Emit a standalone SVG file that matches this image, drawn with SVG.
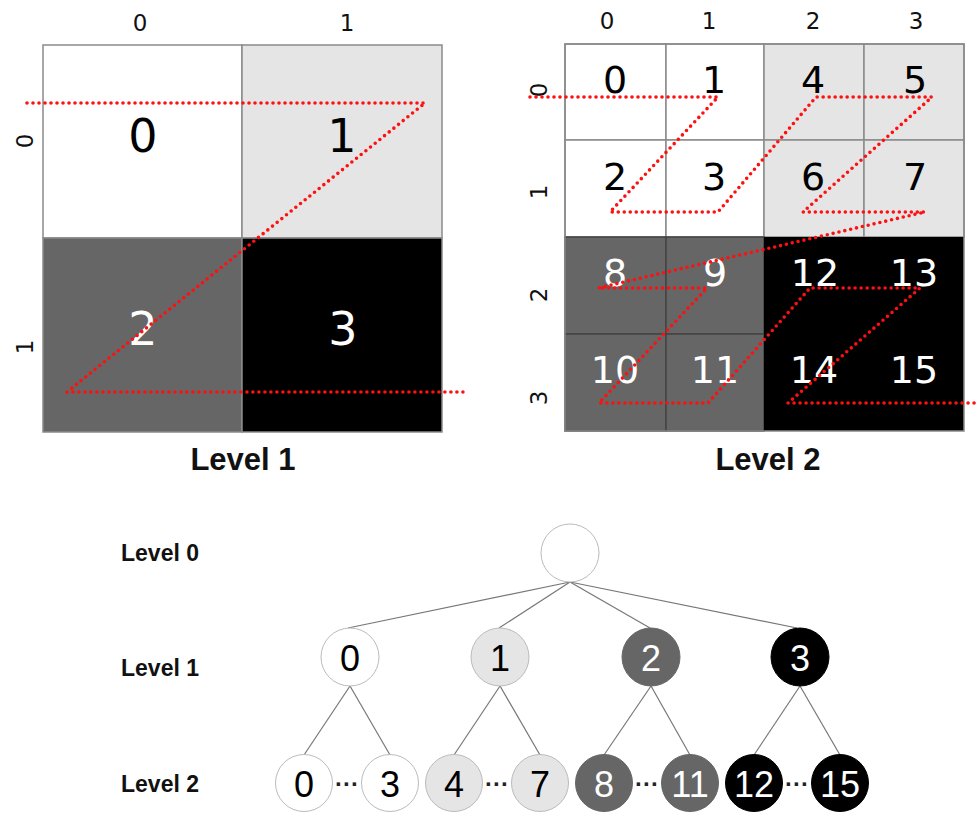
<svg xmlns="http://www.w3.org/2000/svg" width="980" height="813" viewBox="0 0 980 813">
<style>
.bg{fill:#ffffff}
.cell{stroke:#8a8a8a;stroke-width:1.5}
.w{fill:#ffffff}.l{fill:#e5e5e5}.d{fill:#666666}.k{fill:#000000}
.axis{font-family:"DejaVu Sans",sans-serif;font-size:23px;fill:#111;text-anchor:middle}
.n1{font-family:"DejaVu Sans",sans-serif;font-size:46px;text-anchor:middle}
.n2{font-family:"DejaVu Sans",sans-serif;font-size:38px;text-anchor:middle}
.tb{fill:#000}.tw{fill:#fff}
.title{font-family:"Liberation Sans",Arial,sans-serif;font-weight:bold;font-size:31px;fill:#111;text-anchor:middle}
.lvl{font-family:"Liberation Sans",Arial,sans-serif;font-weight:bold;font-size:23px;fill:#111}
.zig{fill:none;stroke:#ff1010;stroke-width:3.6;stroke-dasharray:0 6;stroke-linecap:round;stroke-linejoin:round}
.edge{stroke:#777;stroke-width:1.2;fill:none}
.node{stroke:#bbbbbb;stroke-width:1}
.tn{font-family:"Liberation Sans",Arial,sans-serif;font-size:36px;text-anchor:middle}
.dots{font-family:"Liberation Sans",Arial,sans-serif;font-weight:bold;font-size:24px;fill:#222;text-anchor:middle}
</style>
<rect class="bg" x="0" y="0" width="980" height="813"/>

<g id="grid-level1">
  <rect class="cell w" x="43" y="45" width="199" height="193"/>
  <rect class="cell l" x="242" y="45" width="200" height="193"/>
  <rect class="cell d" x="43" y="238" width="199" height="194"/>
  <rect class="cell k" x="242" y="238" width="200" height="194"/>
  <text class="axis" x="140" y="31">0</text>
  <text class="axis" x="347" y="31">1</text>
  <text class="axis" transform="translate(33,141) rotate(-90)">0</text>
  <text class="axis" transform="translate(33,347) rotate(-90)">1</text>
  <text class="n1 tb" x="143" y="152">0</text>
  <text class="n1 tb" x="342" y="152">1</text>
  <text class="n1 tw" x="143" y="345">2</text>
  <text class="n1 tw" x="343" y="345">3</text>
  <text class="title" x="243" y="470">Level 1</text>
</g>

<g id="grid-level2">
  <rect class="cell w" x="565" y="44" width="101" height="96"/>
  <rect class="cell w" x="666" y="44" width="98" height="96"/>
  <rect class="cell l" x="764" y="44" width="100" height="96"/>
  <rect class="cell l" x="864" y="44" width="100" height="96"/>
  <rect class="cell w" x="565" y="140" width="101" height="97"/>
  <rect class="cell w" x="666" y="140" width="98" height="97"/>
  <rect class="cell l" x="764" y="140" width="100" height="97"/>
  <rect class="cell l" x="864" y="140" width="100" height="97"/>
  <rect class="cell d" x="565" y="237" width="101" height="97" style="stroke:#444"/>
  <rect class="cell d" x="666" y="237" width="98" height="97" style="stroke:#444"/>
  <rect class="cell d" x="565" y="334" width="101" height="97" style="stroke:#444"/>
  <rect class="cell d" x="666" y="334" width="98" height="97" style="stroke:#444"/>
  <rect class="k" x="764" y="237" width="200" height="194"/>
  <rect x="565" y="44" width="399" height="387" fill="none" stroke="#8a8a8a" stroke-width="1.5"/>
  <text class="axis" x="607" y="29">0</text>
  <text class="axis" x="709" y="29">1</text>
  <text class="axis" x="813" y="29">2</text>
  <text class="axis" x="916" y="29">3</text>
  <text class="axis" transform="translate(547,90) rotate(-90)">0</text>
  <text class="axis" transform="translate(547,192) rotate(-90)">1</text>
  <text class="axis" transform="translate(547,295) rotate(-90)">2</text>
  <text class="axis" transform="translate(547,398) rotate(-90)">3</text>
  <text class="n2 tb" x="615" y="93">0</text>
  <text class="n2 tb" x="714" y="93">1</text>
  <text class="n2 tb" x="813" y="93">4</text>
  <text class="n2 tb" x="915" y="93">5</text>
  <text class="n2 tb" x="615" y="190">2</text>
  <text class="n2 tb" x="714" y="190">3</text>
  <text class="n2 tb" x="813" y="190">6</text>
  <text class="n2 tb" x="915" y="190">7</text>
  <text class="n2 tw" x="615" y="286">8</text>
  <text class="n2 tw" x="715" y="286">9</text>
  <text class="n2 tw" x="815" y="286">12</text>
  <text class="n2 tw" x="914" y="286">13</text>
  <text class="n2 tw" x="615" y="383">10</text>
  <text class="n2 tw" x="715" y="383">11</text>
  <text class="n2 tw" x="814" y="383">14</text>
  <text class="n2 tw" x="914" y="383">15</text>
  <text class="title" x="768" y="470">Level 2</text>
</g>

<g id="zorder-curves">
  <polyline class="zig" points="27,103 425,103 67,392 465,392"/>
  <polyline class="zig" points="530,97 718,97 610,212 718,212 816,97 932,97 803,212 925,212 598,288 707,288 599,403 708,403 810,288 920,288 788,403 980,403"/>
</g>

<g id="level-labels">
  <text class="lvl" x="121" y="561">Level 0</text>
  <text class="lvl" x="121" y="676">Level 1</text>
  <text class="lvl" x="121" y="792">Level 2</text>
</g>

<g id="connectors">
  <line class="edge" x1="570" y1="582" x2="348" y2="628"/>
  <line class="edge" x1="570" y1="582" x2="499" y2="628"/>
  <line class="edge" x1="570" y1="582" x2="650" y2="628"/>
  <line class="edge" x1="570" y1="582" x2="797" y2="628"/>
  <line class="edge" x1="350" y1="686" x2="304" y2="755"/>
  <line class="edge" x1="350" y1="686" x2="390" y2="755"/>
  <line class="edge" x1="500" y1="686" x2="454" y2="755"/>
  <line class="edge" x1="500" y1="686" x2="540" y2="755"/>
  <line class="edge" x1="651" y1="686" x2="604" y2="755"/>
  <line class="edge" x1="651" y1="686" x2="690" y2="755"/>
  <line class="edge" x1="800" y1="686" x2="754" y2="755"/>
  <line class="edge" x1="800" y1="686" x2="840" y2="755"/>
</g>

<g id="node-root"><circle class="node w" cx="570" cy="553" r="29"/></g>

<g id="node-l1-0"><circle class="node w" cx="350" cy="657" r="29"/><text class="tn tb" x="350" y="671">0</text></g>
<g id="node-l1-1"><circle class="node l" cx="500" cy="657" r="29"/><text class="tn tb" x="500" y="671">1</text></g>
<g id="node-l1-2"><circle class="node d" cx="651" cy="657" r="29" style="stroke:#666"/><text class="tn tw" x="651" y="671">2</text></g>
<g id="node-l1-3"><circle class="node k" cx="800" cy="657" r="29" style="stroke:#000"/><text class="tn tw" x="800" y="671">3</text></g>

<g id="node-l2-0"><circle class="node w" cx="304" cy="783" r="28.5"/><text class="tn tb" x="304" y="797">0</text></g>
<g id="node-l2-3"><circle class="node w" cx="390" cy="783" r="28.5"/><text class="tn tb" x="390" y="797">3</text></g>
<g id="node-l2-4"><circle class="node l" cx="454" cy="783" r="28.5"/><text class="tn tb" x="454" y="797">4</text></g>
<g id="node-l2-7"><circle class="node l" cx="540" cy="783" r="28.5"/><text class="tn tb" x="540" y="797">7</text></g>
<g id="node-l2-8"><circle class="node d" cx="604" cy="783" r="28.5" style="stroke:#666"/><text class="tn tw" x="604" y="797">8</text></g>
<g id="node-l2-11"><circle class="node d" cx="690" cy="783" r="28.5" style="stroke:#666"/><text class="tn tw" x="690" y="797">11</text></g>
<g id="node-l2-12"><circle class="node k" cx="754" cy="783" r="28.5" style="stroke:#000"/><text class="tn tw" x="754" y="797">12</text></g>
<g id="node-l2-15"><circle class="node k" cx="840" cy="783" r="28.5" style="stroke:#000"/><text class="tn tw" x="840" y="797">15</text></g>

<g id="ellipses">
  <text class="dots" x="347" y="792">···</text>
  <text class="dots" x="497" y="792">···</text>
  <text class="dots" x="647" y="792">···</text>
  <text class="dots" x="797" y="792">···</text>
</g>
</svg>
